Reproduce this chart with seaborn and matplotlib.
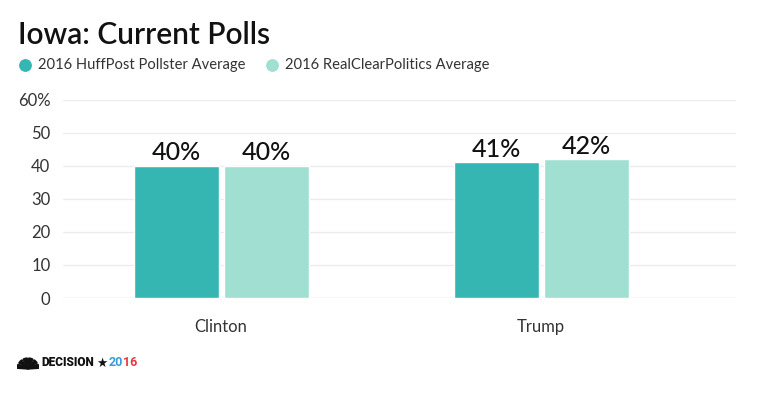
import pandas as pd
import matplotlib
matplotlib.use('Agg')
import matplotlib.pyplot as plt
from matplotlib.lines import Line2D
from matplotlib.patches import Wedge
import seaborn as sns

# chart data
candidates = ['Clinton', 'Trump']
sources = ['2016 HuffPost Pollster Average', '2016 RealClearPolitics Average']
huffpost_avg = [40, 41]
rcp_avg = [40, 42]
y_ticks = [0, 10, 20, 30, 40, 50, 60]
y_tick_labels = ['0', '10', '20', '30', '40', '50', '60%']
colors = ['#35b6b2', '#a2dfd3']

df = pd.DataFrame({
    'candidate': candidates * 2,
    'source': [sources[0]] * 2 + [sources[1]] * 2,
    'value': huffpost_avg + rcp_avg,
})

sns.set_style('white')
plt.rcParams['font.family'] = ['Lato', 'DejaVu Sans']

W, H = 760, 399
fig = plt.figure(figsize=(W / 100, H / 100), dpi=100)
ax = fig.add_axes([0.0829, 0.2531, 0.8855, 0.4975])

sns.barplot(data=df, x='candidate', y='value', hue='source', palette=colors,
            width=0.5625, gap=0.056, saturation=1, legend=False, ax=ax, zorder=3)

for cont in ax.containers:
    ax.bar_label(cont, labels=[f'{v:.0f}%' for v in cont.datavalues],
                 padding=1, fontsize=18, fontweight='medium', color='#111111', zorder=4)

ax.set_ylim(0, 60)
ax.set_xlim(-0.494, 1.609)
ax.set_yticks(y_ticks)
ax.set_yticklabels(y_tick_labels)
ax.grid(axis='y', color='#ececec', linewidth=1, zorder=0)
ax.set_xlabel('')
ax.set_ylabel('')
for s in ax.spines.values():
    s.set_visible(False)
ax.tick_params(axis='y', length=0, labelsize=12, labelcolor='#333333', pad=9)
ax.tick_params(axis='x', length=9, width=0.8, color='#dddddd', labelsize=12,
               labelcolor='#333333', pad=6)
ax.axhline(0, color='#e6e6e6', linewidth=1, zorder=2)

# title
fig.text(18 / W, 1 - 35 / H, 'Iowa: Current Polls', fontsize=21.5, fontweight='semibold',
         color='#111111', va='center', ha='left')

# legend, placed by hand
for cx, tx, c, lab in [(25, 38, colors[0], sources[0]), (272, 285, colors[1], sources[1])]:
    fig.add_artist(Line2D([cx / W], [1 - 65 / H], marker='o', markersize=8.2,
                          color=c, linestyle='', transform=fig.transFigure))
    fig.text(tx / W, 1 - 65 / H, lab, fontsize=10.6, color='#333333',
             va='center', ha='left')

# decision 2016 logo
logo = fig.add_axes([17 / W, 1 - 370 / H, 22 / W, 13 / H])
logo.set_xlim(-11, 11)
logo.set_ylim(0, 13)
logo.axis('off')
for ang in range(0, 180, 30):
    logo.add_patch(Wedge((0, 1), 11, ang + 4, ang + 26, color='#111111'))
fam = ['Roboto', 'DejaVu Sans']
fig.text(41 / W, 1 - 363 / H, 'DECISION', fontsize=8.6, fontweight='heavy', color='#111111',
         va='center', ha='left', family=fam)
fig.text(96 / W, 1 - 363 / H, '\u2605', fontsize=9, color='#111111', va='center', ha='left',
         family=['DejaVu Sans'])
t20 = fig.text(108.5 / W, 1 - 363 / H, '20', fontsize=9, fontweight='bold', color='#3a9ad9',
               va='center', ha='left', family=fam)
fig.canvas.draw()
x_end = t20.get_window_extent().x1
fig.text((x_end + 0.3) / W, 1 - 363 / H, '16', fontsize=9, fontweight='bold', color='#e8383d',
         va='center', ha='left', family=fam)

fig.savefig('out.png', dpi=100)
